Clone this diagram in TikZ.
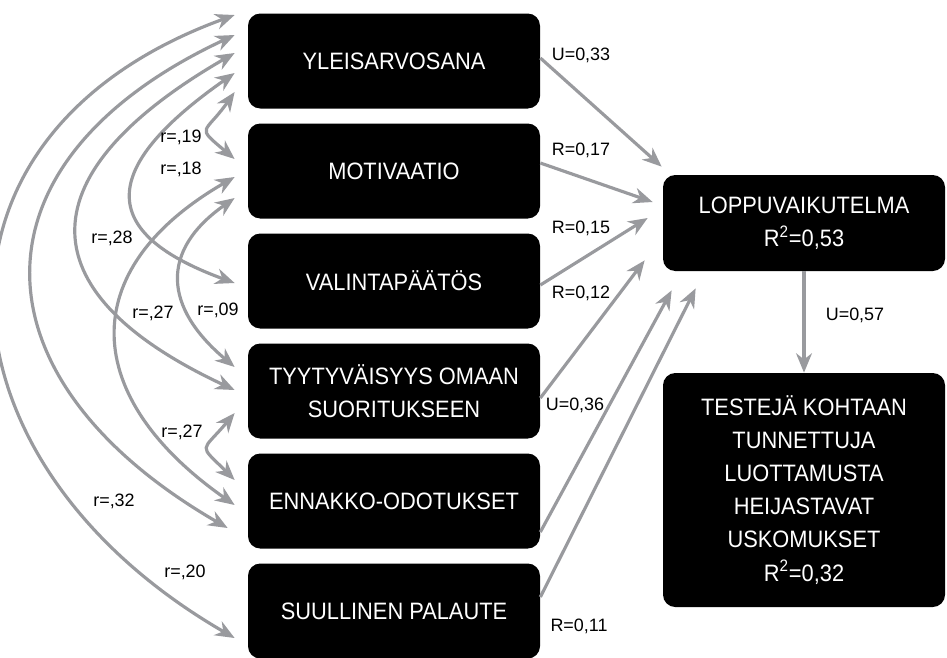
\documentclass[tikz,border=0pt]{standalone}
\usepackage{fontspec}
\setmainfont{Liberation Sans}
\newfontfamily\boxfont{Liberation Sans}[FakeStretch=0.92]
\usetikzlibrary{arrows.meta}
\definecolor{linegray}{RGB}{153,154,158}
\tikzset{
  box/.style={fill=black, text=white, rounded corners=7pt, align=center,
    minimum width=5.84cm, minimum height=1.9cm, inner sep=0pt,
    font=\boxfont\fontsize{13.5}{18.8}\selectfont},
  coef/.style={inner sep=0pt, font=\fontsize{10.2}{12}\selectfont},
  tip/.tip={Stealth[length=11pt,width=9pt,inset=3.5pt]},
  effect/.style={draw=linegray, line width=1.8pt, -tip},
  corr/.style={draw=linegray, line width=1.8pt, tip-tip},
}
\begin{document}
\begin{tikzpicture}[x=0.2mm, y=0.2mm]
\useasboundingbox (0,0) rectangle (947,-657);

% predictors
\node[box] (yleis) at (394,-61) {YLEISARVOSANA};
\node[box] (motiv) at (394,-171) {MOTIVAATIO};
\node[box] (valinta) at (394,-281) {VALINTAPÄÄTÖS};
\node[box] (tyyty) at (394,-391) {TYYTYVÄISYYS OMAAN\\SUORITUKSEEN};
\node[box] (ennakko) at (394,-501) {ENNAKKO-ODOTUKSET};
\node[box] (suull) at (394,-611) {SUULLINEN PALAUTE};

% outcomes
\node[box, minimum width=5.64cm, minimum height=1.92cm] (loppu) at (804,-223) {LOPPUVAIKUTELMA\\R\textsuperscript{2}=0,53};
\node[box, minimum width=5.64cm, minimum height=4.68cm] (testeja) at (804,-490) {TESTEJÄ KOHTAAN\\TUNNETTUJA\\LUOTTAMUSTA\\HEIJASTAVAT\\USKOMUKSET\\R\textsuperscript{2}=0,32};

% effects on loppuvaikutelma
\draw[effect] ([shift={(0,3)}]yleis.east) -- ([shift={(-1,8)}]loppu.north west);
\draw[effect] ([shift={(0,8)}]motiv.east) -- ([shift={(-10,21)}]loppu.west);
\draw[effect] ([shift={(0,-4)}]valinta.east) -- ([shift={(-15,5)}]loppu.west);
\draw[effect] ([shift={(0,-7)}]tyyty.east) -- ([shift={(-18,11)}]loppu.south west);
\draw[effect] ([shift={(0,-31)}]ennakko.east) -- ([shift={(9,-19)}]loppu.south west);
\draw[effect] ([shift={(0,14)}]suull.east) -- ([shift={(33,-17)}]loppu.south west);
\draw[effect] (loppu.south) -- (testeja.north);

\node[coef] (c1) at (581,-55) {U=0,33};
\node[coef] (c2) at (581,-150) {R=0,17};
\node[coef] (c3) at (581,-228) {R=0,15};
\node[coef] (c4) at (581,-293) {R=0,12};
\node[coef] (c5) at (575,-405) {U=0,36};
\node[coef] (c6) at (579,-626) {R=0,11};
\node[coef] (c7) at (855,-315) {U=0,57};

% correlations
\draw[corr] ([shift={(-13,46)}]yleis.west) to[out=200,in=150,looseness=1.45] ([shift={(-13,-27)}]suull.west);
\draw[corr] ([shift={(-13,26)}]yleis.west) to[out=205,in=150,looseness=1.55] ([shift={(-20,-27)}]ennakko.west);
\draw[corr] ([shift={(-13,8)}]yleis.west) to[out=210,in=155,looseness=1.8] ([shift={(-13,1)}]tyyty.west);
\draw[corr] ([shift={(-13,-12)}]yleis.west) to[out=215,in=160,looseness=1.9] ([shift={(-13,-2)}]valinta.west);
\draw[corr] ([shift={(-13,-31)}]yleis.west) to[out=235,in=140,looseness=2] ([shift={(-13,12)}]motiv.west);
\draw[corr] ([shift={(-13,-6)}]motiv.west) to[out=210,in=145,looseness=1.46] ([shift={(-13,-4)}]ennakko.west);
\draw[corr] ([shift={(-13,-27)}]motiv.west) to[out=215,in=140,looseness=1.4] ([shift={(-13,24)}]tyyty.west);
\draw[corr] ([shift={(-13,-22)}]tyyty.west) to[out=230,in=135,looseness=2] ([shift={(-13,21)}]ennakko.west);

\node[coef] (r1) at (181,-137) {r=,19};
\node[coef] (r2) at (181,-169) {r=,18};
\node[coef] (r3) at (112,-238) {r=,28};
\node[coef] (r4) at (153,-313) {r=,27};
\node[coef] (r5) at (218,-310) {r=,09};
\node[coef] (r6) at (182,-432) {r=,27};
\node[coef] (r7) at (114,-501) {r=,32};
\node[coef] (r8) at (185,-572) {r=,20};
\end{tikzpicture}
\end{document}
